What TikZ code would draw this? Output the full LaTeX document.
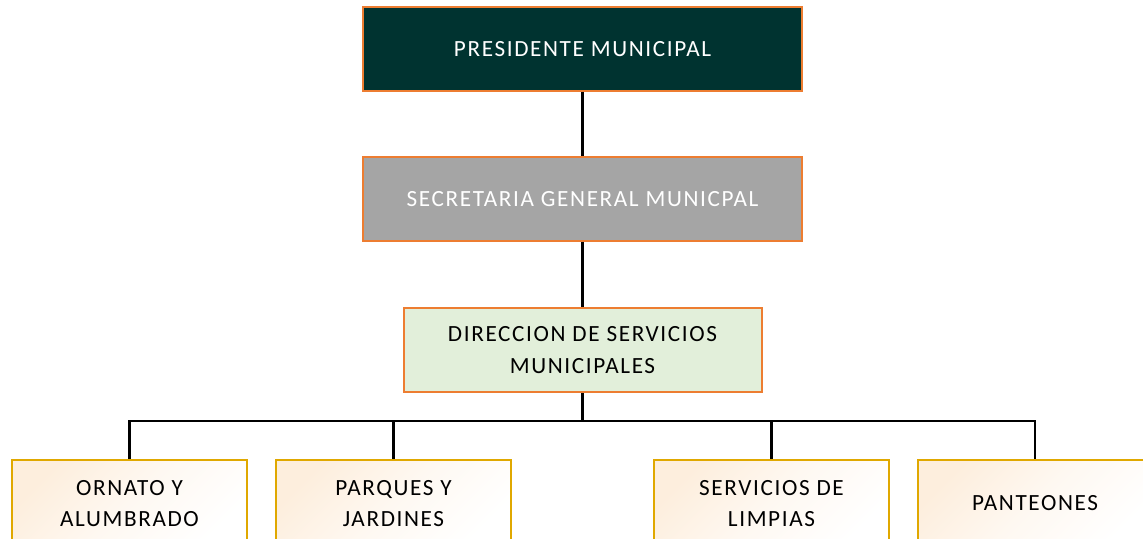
\documentclass[tikz,border=0pt]{standalone}
\usepackage{fontspec}
\setmainfont[LetterSpace=7]{Carlito}
\definecolor{headfill}{HTML}{003330}
\definecolor{orangeline}{HTML}{ED7D31}
\definecolor{grayfill}{HTML}{A5A5A5}
\definecolor{greenfill}{HTML}{E2EFDA}
\definecolor{goldline}{HTML}{E0A800}
\definecolor{tint}{HTML}{FDEEDD}

\begin{document}
\begin{tikzpicture}[x=0.5pt,y=-0.5pt,
    box/.style={rectangle, draw, line width=1pt, align=center,
        font=\fontsize{11.6}{15.8}\selectfont, inner sep=0pt},
    topbox/.style={box, draw=orangeline, minimum width=219.5pt, minimum height=42pt},
    unitbox/.style={box, draw=goldline, minimum width=117.5pt, minimum height=43.5pt,
        top color=tint, bottom color=white, middle color=white!60!tint, shading angle=45},
    link/.style={line width=1.2pt}]
    \clip (0,0) rectangle (1143,539);
    \node[topbox, fill=headfill, text=white] (pres) at (582.5,49) {PRESIDENTE MUNICIPAL};
    \node[topbox, fill=grayfill, text=white] (secr) at (582.5,199) {SECRETARIA GENERAL MUNICPAL};
    \node[box, draw=orangeline, fill=greenfill, minimum width=179pt, minimum height=42pt]
        (dir) at (582.5,350) {DIRECCION DE SERVICIOS\\MUNICIPALES};
    \coordinate (bus) at (582.5,421);

    \node[unitbox] (ornato) at (129.5,503.5) {ORNATO Y\\ALUMBRADO};
    \node[unitbox] (parques) at (393.5,503.5) {PARQUES Y\\JARDINES};
    \node[unitbox] (limpias) at (771.5,503.5) {SERVICIOS DE\\LIMPIAS};
    \node[unitbox] (panteones) at (1035,503.5) {PANTEONES};

    \draw[link] (pres) -- (secr);
    \draw[link] (secr) -- (dir);
    \draw[link] (dir) -- (bus);
    \foreach \unit in {ornato,parques,limpias,panteones}
        \draw[link] (bus) -| (\unit);
\end{tikzpicture}
\end{document}
